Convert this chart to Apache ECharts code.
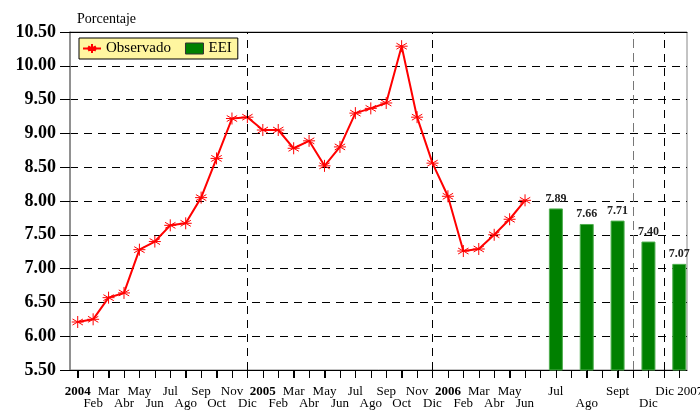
<!DOCTYPE html>
<html lang="es">
  <head>
    <meta charset="UTF-8" />
    <title>Porcentaje</title>
    <script src="https://cdn.jsdelivr.net/npm/echarts@6/dist/echarts.min.js"></script>
    <style>
      html, body { margin: 0; padding: 0; background: #fff; }
    </style>
  </head>
  <body>
    <div id="chart" style="width: 700px; height: 411px"></div>

    <script>
      // meses observados, ene 2004 - jun 2006
      const monthLabels = [
        "2004", "Feb", "Mar", "Abr", "May", "Jun", "Jul", "Ago", "Sep", "Oct", "Nov", "Dic",
        "2005", "Feb", "Mar", "Abr", "May", "Jun", "Jul", "Ago", "Sep", "Oct", "Nov", "Dic",
        "2006", "Feb", "Mar", "Abr", "May", "Jun",
      ];
      const observado = [
        6.21, 6.25, 6.57, 6.64, 7.28, 7.40, 7.64, 7.67, 8.05, 8.63, 9.22, 9.24,
        9.05, 9.05, 8.78, 8.89, 8.52, 8.80, 9.30, 9.37, 9.45, 10.29, 9.24, 8.56,
        8.07, 7.26, 7.29, 7.50, 7.73, 8.01,
      ];
      // expectativas (EEI)
      const eeiLabels = ["Jul", "Ago", "Sept", "Dic", "Dic 2007"];
      const eeiValues = [7.89, 7.66, 7.71, 7.40, 7.07];
      const yearLabels = ["2004", "2005", "2006"];

      // one slot per month, each EEI bar takes a blank slot + its own slot
      const categories = monthLabels.slice();
      eeiLabels.forEach((lab) => categories.push("", lab));
      const slots = categories.map((c, i) => i);
      const labelSlots = slots.filter((i) => categories[i] !== "");
      const topSlots = labelSlots.filter((s, j) => j % 2 === 0);
      const bottomSlots = labelSlots.filter((s, j) => j % 2 === 1);

      const lineData = observado.map((v, i) => [i, v]);
      const barData = eeiValues.map((v, i) => [monthLabels.length + 2 * i + 1, v]);

      const serif = "Liberation Serif";
      const yMin = 5.5;
      const xMin = -0.5;
      const xMax = categories.length - 0.5;

      const labelFmt = (v) => {
        const lab = categories[Math.round(v)];
        if (!lab) return "";
        return yearLabels.includes(lab) ? "{y|" + lab + "}" : "{n|" + lab + "}";
      };
      const labelRich = {
        n: { fontFamily: serif, fontSize: 13, color: "#000" },
        y: { fontFamily: serif, fontSize: 13, fontWeight: "bold", color: "#000" },
      };

      const chart = echarts.init(document.getElementById("chart"));
      chart.setOption({
        animation: false,
        textStyle: { fontFamily: serif },
        title: {
          text: "Porcentaje",
          left: 72,
          top: 7,
          textStyle: { fontFamily: serif, fontSize: 14, fontWeight: "normal", color: "#000" },
        },
        legend: {
          left: 79,
          top: 38,
          orient: "horizontal",
          backgroundColor: "#fff6a0",
          borderColor: "#000",
          borderWidth: 1,
          padding: [3, 6, 3, 3],
          itemGap: 14,
          itemWidth: 18,
          itemHeight: 11,
          textStyle: { fontFamily: serif, fontSize: 15, color: "#000" },
          data: [
            { name: "Observado" },
            { name: "EEI", icon: "rect", itemStyle: { borderColor: "#333", borderWidth: 1 } },
          ],
        },
        grid: {
          left: 70,
          right: 13,
          top: 32,
          bottom: 41,
          outerBoundsMode: "none",
          show: true,
          borderColor: "#888",
          borderWidth: 1,
        },
        xAxis: [
          {
            type: "value",
            min: xMin,
            max: xMax,
            axisLine: { show: true, onZero: false, lineStyle: { color: "#000", width: 1 } },
            axisTick: { show: true, length: 8, customValues: slots, lineStyle: { color: "#000", width: 1 } },
            axisLabel: {
              customValues: topSlots,
              showMinLabel: true,
              showMaxLabel: true,
              hideOverlap: false,
              margin: 15,
              formatter: labelFmt,
              rich: labelRich,
            },
            splitLine: { show: false },
          },
          {
            type: "value",
            min: xMin,
            max: xMax,
            position: "bottom",
            offset: 12,
            axisLine: { show: false, onZero: false },
            axisTick: { show: false },
            axisLabel: {
              customValues: bottomSlots,
              showMinLabel: true,
              showMaxLabel: true,
              hideOverlap: false,
              margin: 15,
              formatter: labelFmt,
              rich: labelRich,
            },
            splitLine: { show: false },
          },
          {
            type: "value",
            min: xMin,
            max: xMax,
            position: "top",
            axisLine: { show: true, onZero: false, lineStyle: { color: "#000", width: 1 } },
            axisTick: { show: false },
            axisLabel: { show: false },
            splitLine: { show: false },
          },
        ],
        yAxis: {
          type: "value",
          min: yMin,
          max: 10.5,
          interval: 0.5,
          axisLine: { show: true, onZero: false, lineStyle: { color: "#808080", width: 1.5 } },
          axisTick: { show: true, length: 10, lineStyle: { color: "#000" } },
          axisLabel: {
            margin: 14,
            fontFamily: serif,
            fontSize: 18,
            fontWeight: "bold",
            color: "#000",
            formatter: (v) => v.toFixed(2),
          },
          splitLine: { lineStyle: { color: "#000", type: [8, 6], width: 1 } },
        },
        series: [
          {
            name: "EEI",
            type: "bar",
            data: barData,
            barWidth: 14,
            itemStyle: { color: "#008000", borderColor: "#4fae4f", borderWidth: 1 },
            label: {
              show: true,
              position: "top",
              distance: 4,
              fontFamily: serif,
              fontSize: 12,
              fontWeight: "bold",
              color: "#222",
              formatter: (p) => p.value[1].toFixed(2),
            },
            markLine: {
              silent: true,
              symbol: "none",
              label: { show: false },
              lineStyle: { color: "#000", type: [8, 6], width: 1 },
              data: [
                { xAxis: 11 },
                { xAxis: 23 },
                { xAxis: 36, lineStyle: { color: "#777", type: [9, 5] } },
                { xAxis: 38 },
              ],
            },
          },
          {
            name: "Observado",
            type: "line",
            data: lineData,
            symbol: "path://M0,-6L0,6M-5.2,-3L5.2,3M-5.2,3L5.2,-3M-6,0L6,0",
            symbolKeepAspect: true,
            symbolSize: 12,
            itemStyle: { color: "#ff0000", borderColor: "#ff0000", borderWidth: 1 },
            lineStyle: { color: "#ff0000", width: 2 },
          },
        ],
      });

      // month ticks under the x axis, placed with the chart's own x scale
      const tickMarks = slots.map((i) => {
        const p = chart.convertToPixel({ xAxisIndex: 0, yAxisIndex: 0 }, [i, yMin]);
        const x = Math.round(p[0]) + 0.5;
        return {
          type: "line",
          z: 100,
          silent: true,
          shape: { x1: x, y1: p[1], x2: x, y2: p[1] + 8 },
          style: { stroke: "#000", lineWidth: 1 },
        };
      });
      chart.setOption({ graphic: tickMarks });
    </script>
  </body>
</html>
